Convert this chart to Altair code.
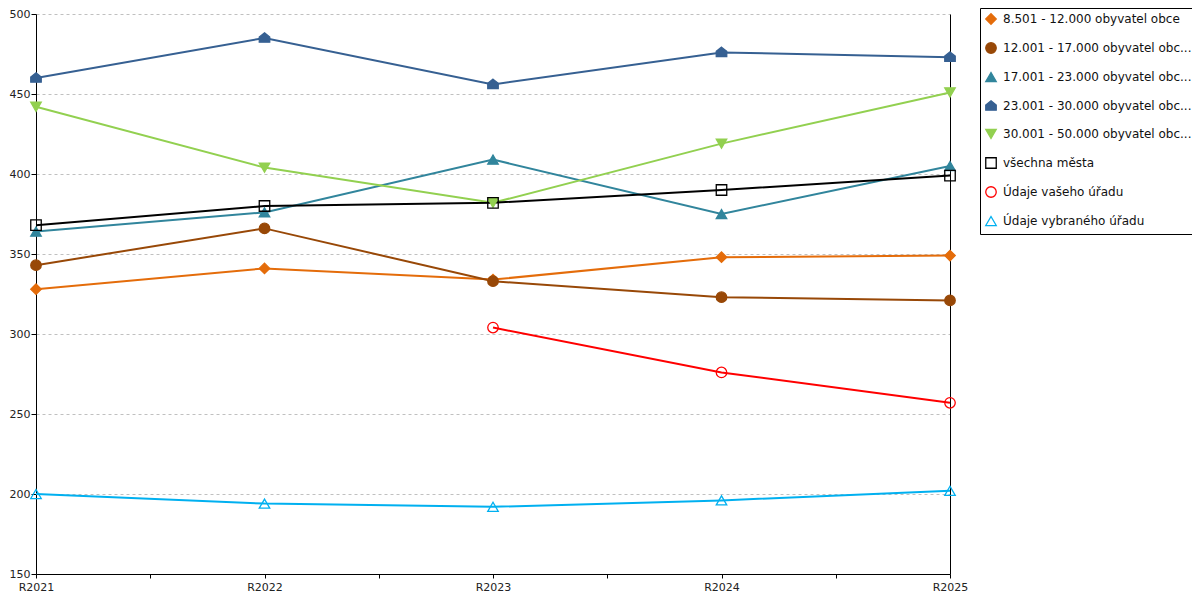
import altair as alt
import pandas as pd

years = ["R2021", "R2022", "R2023", "R2024", "R2025"]
names = [
    "8.501 - 12.000 obyvatel obce",
    "12.001 - 17.000 obyvatel obc...",
    "17.001 - 23.000 obyvatel obc...",
    "23.001 - 30.000 obyvatel obc...",
    "30.001 - 50.000 obyvatel obc...",
    "všechna města",
    "Údaje vašeho úřadu",
    "Údaje vybraného úřadu",
]
s1 = [328, 341, 334, 348, 349]
s2 = [343, 366, 333, 323, 321]
s3 = [364, 376, 409, 375, 405]
s4 = [460, 485, 456, 476, 473]
s5 = [442, 404, 382, 419, 451]
s6 = [368, 380, 382, 390, 399]
s7 = [None, None, 304, 276, 257]
s8 = [200, 194, 192, 196, 202]
series = [s1, s2, s3, s4, s5, s6, s7, s8]

line_colors = ["#E46C0A", "#984807", "#31859C", "#366092", "#92D050", "#000000", "#FF0000", "#00B0F0"]
fill_colors = ["#E46C0A", "#984807", "#31859C", "#366092", "#92D050", "transparent", "transparent", "transparent"]
house = "M0,-1L1,-0.2L1,0.8L-1,0.8L-1,-0.2Z"
shapes = ["diamond", "circle", "triangle-up", house, "triangle-down", "square", "circle", "triangle-up"]

rows = []
for name, vals in zip(names, series):
    for y, v in zip(years, vals):
        if v is not None:
            rows.append({"serie": name, "rok": int(y[1:]), "hodnota": v})
df = pd.DataFrame(rows)

font = "DejaVu Sans"
xenc = alt.X(
    "rok:Q",
    scale=alt.Scale(domain=[2021, 2025], nice=False, zero=False),
    axis=alt.Axis(
        values=[2021, 2021.5, 2022, 2022.5, 2023, 2023.5, 2024, 2024.5, 2025],
        labelExpr="datum.value % 1 === 0 ? 'R' + datum.value : ''",
        grid=False, title=None, domainColor="black", tickColor="black",
        tickSize=4, labelColor="#222", labelFont=font, labelFontSize=11,
        labelPadding=3, labelFlush=False,
    ),
)
yscale = alt.Scale(domain=[150, 500], nice=False, zero=False)
cscale = alt.Scale(domain=names, range=line_colors)

lines = alt.Chart(df).mark_line(strokeWidth=2).encode(
    x=xenc,
    y=alt.Y(
        "hodnota:Q", scale=yscale,
        axis=alt.Axis(
            values=[150, 200, 250, 300, 350, 400, 450, 500],
            grid=True, gridColor="#c0c0c0", gridDash=[3, 3], title=None,
            domainColor="black", tickColor="black", tickSize=5,
            labelColor="#222", labelFont=font, labelFontSize=11, labelPadding=1,
        ),
    ),
    color=alt.Color("serie:N", scale=cscale, title=None),
)

points = alt.Chart(df).mark_point(strokeWidth=1.3, opacity=1, size=110).encode(
    x=xenc,
    y=alt.Y(
        "hodnota:Q", scale=yscale,
        axis=alt.Axis(orient="right", labels=False, ticks=False, grid=False,
                      title=None, domainColor="black"),
    ),
    color=alt.Color("serie:N", scale=cscale, title=None),
    shape=alt.Shape("serie:N", scale=alt.Scale(domain=names, range=shapes), title=None),
    fill=alt.Fill("serie:N", scale=alt.Scale(domain=names, range=fill_colors), title=None),
)

chart = (
    alt.layer(lines, points)
    .resolve_axis(y="independent")
    .properties(
        width=914, height=560,
        autosize=alt.AutoSizeParams(type="none"),
        padding={"left": 28, "top": 6, "right": 242, "bottom": 18},
    )
    .configure_view(stroke=None)
    .configure_legend(
        orient="none", legendX=944, legendY=-6,
        strokeColor="black", fillColor="white", padding=5, rowPadding=13,
        labelFont=font, labelFontSize=12, labelColor="#111", labelLimit=192,
        symbolStrokeWidth=1.3, labelOffset=6, cornerRadius=0, symbolSize=110,
    )
)

chart.save("out.html", embed_options={"renderer": "svg", "actions": False})
